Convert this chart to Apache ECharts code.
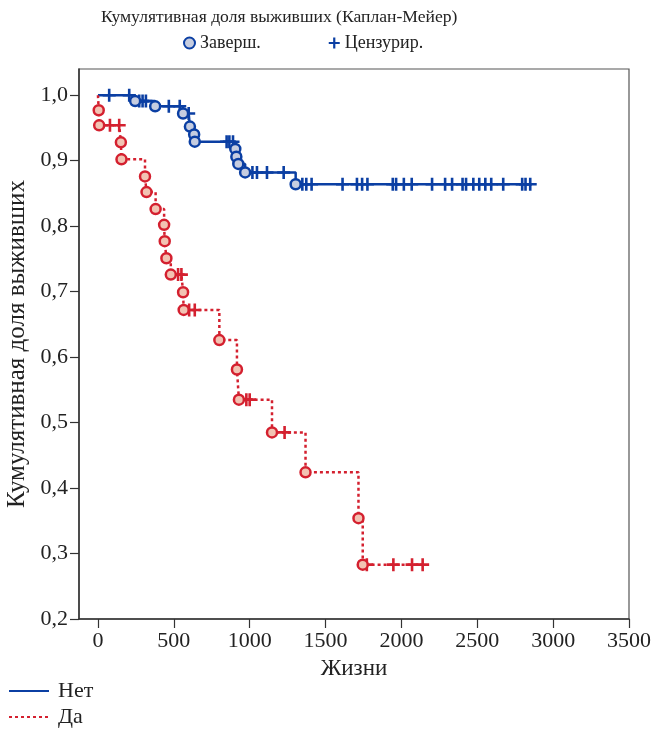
<!DOCTYPE html>
<html><head><meta charset="utf-8">
<script src="https://cdn.jsdelivr.net/npm/echarts@6/dist/echarts.min.js"></script>
<style>html,body{margin:0;padding:0;background:#fff}#c{width:654px;height:729px}</style>
</head><body><div id="c"></div>
<script>
// Group "Нет" (blue, solid): events [time, survival] and censored [time, survival]
var netEvents = [[245,0.991],[377,0.983],[561,0.972],[606,0.952],[634,0.940],[638,0.929],[905,0.918],[912,0.906],[925,0.895],[970,0.882],[1303,0.864]];
var netCensored = [[74,1.0],[206,1.0],[272,0.991],[294,0.991],[316,0.991],[467,0.983],[539,0.983],[598,0.972],
  [848,0.929],[866,0.929],[890,0.929],[1018,0.882],[1048,0.882],[1114,0.882],[1224,0.882],
  [1347,0.864],[1373,0.864],[1408,0.864],[1612,0.864],[1707,0.864],[1741,0.864],[1776,0.864],[1943,0.864],[1965,0.864],
  [2016,0.864],[2068,0.864],[2202,0.864],[2288,0.864],[2334,0.864],[2403,0.864],[2426,0.864],[2474,0.864],[2513,0.864],
  [2553,0.864],[2592,0.864],[2671,0.864],[2796,0.864],[2818,0.864],[2849,0.864]];
// Group "Да" (red, dotted)
var daEvents = [[5,0.977],[8,0.954],[151,0.928],[155,0.902],[310,0.876],[320,0.852],[380,0.826],[436,0.802],[440,0.777],[451,0.751],[480,0.726],[561,0.699],[565,0.672],[800,0.626],[916,0.581],[929,0.535],[1147,0.485],[1368,0.424],[1717,0.354],[1745,0.283]];
var daCensored = [[79,0.954],[140,0.954],[528,0.726],[550,0.726],[601,0.672],[638,0.672],[978,0.535],[1000,0.535],[1230,0.485],[1772,0.283],[1947,0.283],[2070,0.283],[2140,0.283]];
var xTicks = [0,500,1000,1500,2000,2500,3000,3500];
var yTicks = [0.2,0.3,0.4,0.5,0.6,0.7,0.8,0.9,1.0];

var FONT = 'Liberation Serif';
var BLUE = '#0b3fa3', RED = '#d4202f';
var PLUS = 'path://M4,0H6V4H10V6H6V10H4V6H0V4H4Z';

function curve(ev, ce){
  var pts = [[0,1.0]].concat(ev, ce);
  pts.sort(function(a,b){return a[0]-b[0];});
  return pts;
}

var chart = echarts.init(document.getElementById('c'));
chart.setOption({
  animation:false,
  textStyle:{fontFamily:FONT},
  title:{text:'Кумулятивная доля выживших (Каплан-Мейер)', left:96, top:3,
    textStyle:{fontFamily:FONT, fontSize:17.6, fontWeight:'normal', color:'#222'}},
  legend:[
    {data:['Заверш.','Цензурир.'], left:183, top:34, itemWidth:11, itemHeight:11, itemGap:68, padding:0,
      textStyle:{fontFamily:FONT, fontSize:18, color:'#222'}},
    {data:['Нет','Да'], orient:'vertical', left:8, top:680, itemWidth:40, itemHeight:14, itemGap:4, padding:0,
      itemStyle:{opacity:0},
      textStyle:{fontFamily:FONT, fontSize:22, color:'#222', padding:[0,0,0,4]}}
  ],
  grid:{left:79, right:25, top:69, bottom:110, show:true, borderColor:'#555', borderWidth:1.2, outerBoundsMode:'none', containLabel:false},
  xAxis:{type:'value', min:-125, max:3500, name:'Жизни', nameLocation:'middle', nameGap:38,
    nameTextStyle:{fontFamily:FONT, fontSize:23, color:'#222'},
    axisLine:{show:true, onZero:false, lineStyle:{color:'#333', width:1.5}},
    axisTick:{show:true, length:9, customValues:xTicks, lineStyle:{color:'#333', width:1.2}},
    axisLabel:{customValues:xTicks, margin:11, fontFamily:FONT, fontSize:22, color:'#222',
      formatter:function(v){return String(Math.round(v));}},
    splitLine:{show:false}},
  yAxis:{type:'value', min:0.2, max:1.04, name:'Кумулятивная доля выживших', nameLocation:'middle', nameGap:42,
    nameTextStyle:{fontFamily:FONT, fontSize:25, color:'#222'},
    axisLine:{show:true, onZero:false, lineStyle:{color:'#333', width:1.5}},
    axisTick:{show:true, length:9, customValues:yTicks, lineStyle:{color:'#333', width:1.2}},
    axisLabel:{customValues:yTicks, margin:11, fontFamily:FONT, fontSize:22, color:'#222',
      formatter:function(v){return v.toFixed(1).replace('.',',');}},
    splitLine:{show:false}},
  series:[
    {name:'Нет', type:'line', step:'end', symbol:'none', data:curve(netEvents, netCensored),
      lineStyle:{color:BLUE, width:2.5}, itemStyle:{color:BLUE}, z:2},
    {name:'Да', type:'line', step:'end', symbol:'none', data:curve(daEvents, daCensored),
      lineStyle:{color:RED, width:2.5, type:[3,3]}, itemStyle:{color:RED}, z:2},
    {name:'Заверш.', type:'scatter', data:netEvents, symbol:'circle', symbolSize:10,
      itemStyle:{color:'#c6cde0', borderColor:BLUE, borderWidth:2.5, opacity:1}, z:4},
    {name:'Заверш.-Да', type:'scatter', data:daEvents, symbol:'circle', symbolSize:10,
      itemStyle:{color:'#f2c3b3', borderColor:RED, borderWidth:2.5, opacity:1}, z:4},
    {name:'Цензурир.', type:'scatter', data:netCensored, symbol:PLUS, symbolSize:13,
      itemStyle:{color:BLUE, opacity:1}, z:3},
    {name:'Цензурир.-Да', type:'scatter', data:daCensored, symbol:PLUS, symbolSize:13,
      itemStyle:{color:RED, opacity:1}, z:3}
  ]
});
</script></body></html>
